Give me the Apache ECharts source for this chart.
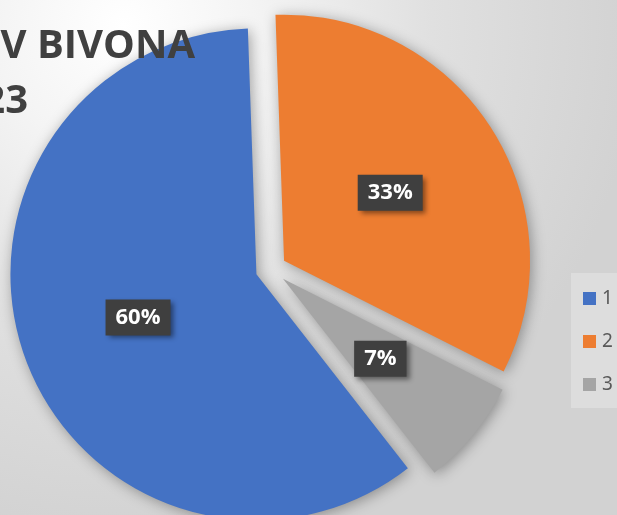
<!DOCTYPE html>
<html>
<head>
<meta charset="utf-8">
<script src="https://cdn.jsdelivr.net/npm/echarts@6/dist/echarts.min.js"></script>
<style>
html,body{margin:0;padding:0;}
#main{width:617px;height:515px;}
</style>
</head>
<body>
<div id="main"></div>
<script>
const categories = ['1', '2', '3'];
const values = [60, 33, 7];
const colors = ['#4472C4', '#ED7D31', '#A5A5A5'];
const titleLines = ['V BIVONA', '23'];

const chart = echarts.init(document.getElementById('main'), null, {renderer: 'canvas'});

const data = categories.map((c, i) => ({
  name: c,
  value: values[i],
  selected: true,
  itemStyle: {color: colors[i]}
}));

const option = {
  animation: false,
  backgroundColor: {
    type: 'radial', x: 0.2, y: 0.05, r: 1.0,
    colorStops: [
      {offset: 0, color: '#ffffff'},
      {offset: 0.25, color: '#f4f4f4'},
      {offset: 0.6, color: '#e0e0e0'},
      {offset: 1, color: '#d2d2d2'}
    ]
  },
  graphic: [
    {
      type: 'text', z: 100,
      style: {
        text: titleLines[0], x: 195, y: 27, align: 'right', verticalAlign: 'top',
        font: 'bold 40px "Open Sans"', fill: '#404040'
      }
    },
    {
      type: 'text', z: 100,
      style: {
        text: titleLines[1], x: 28, y: 82, align: 'right', verticalAlign: 'top',
        font: 'bold 40px "Open Sans"', fill: '#404040'
      }
    }
  ],
  legend: {
    orient: 'vertical',
    left: 571,
    top: 273,
    padding: [16, 20, 14, 12],
    backgroundColor: 'rgba(255,255,255,0.25)',
    itemWidth: 13,
    itemHeight: 13,
    itemGap: 24,
    icon: 'rect',
    selectedMode: false,
    textStyle: {fontSize: 19, color: '#595959', fontFamily: 'Noto Sans', padding: [0, 0, 0, 1]},
    data: categories
  },
  series: [{
    type: 'pie',
    center: [271, 269],
    radius: [0, 246],
    startAngle: -52,
    clockwise: true,
    selectedMode: 'multiple',
    selectedOffset: 15.5,
    percentPrecision: 0,
    avoidLabelOverlap: false,
    emphasis: {disabled: true},
    itemStyle: {
      shadowBlur: 14,
      shadowColor: 'rgba(0,0,0,0.35)',
      shadowOffsetX: 2,
      shadowOffsetY: 2
    },
    select: {itemStyle: {shadowBlur: 14, shadowColor: 'rgba(0,0,0,0.35)', shadowOffsetX: 2, shadowOffsetY: 2}},
    label: {
      show: true,
      position: 'inside',
      formatter: '{d}%',
      color: '#ffffff',
      fontFamily: 'Open Sans',
      fontWeight: 'bold',
      fontSize: 22,
      lineHeight: 26,
      backgroundColor: '#3f3f3f',
      padding: [5, 10, 5, 10],
      shadowColor: 'rgba(0,0,0,0.45)',
      shadowBlur: 5,
      shadowOffsetX: 3,
      shadowOffsetY: 3
    },
    labelLine: {show: false},
    data: data
  }]
};
chart.setOption(option);
</script>
</body>
</html>
